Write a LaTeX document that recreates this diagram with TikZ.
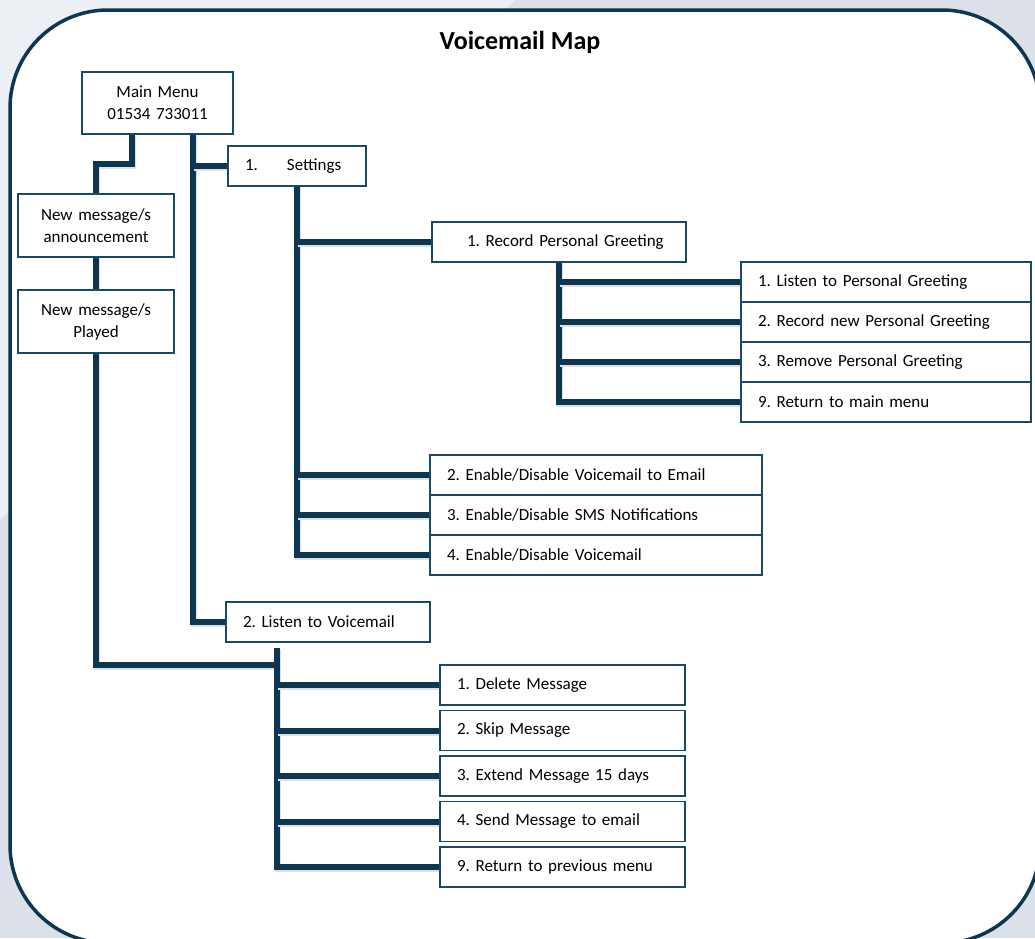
\documentclass[tikz,border=0pt]{standalone}
\usepackage{fontspec}
\setmainfont{Carlito}
\usetikzlibrary{backgrounds}
\frenchspacing

\definecolor{navy}{HTML}{0D3651}
\definecolor{boxline}{HTML}{1A4A68}
\definecolor{backdrop}{HTML}{DCE1E9}
\definecolor{backlight}{HTML}{ECEFF3}

\tikzset{
    menubox/.style = {draw=boxline, line width=1.5pt, fill=white, anchor=north west,
        outer sep=0pt, minimum height=40pt, inner xsep=17pt, inner ysep=2pt, align=left,
        font=\fontsize{17}{22}\selectfont},
    wire/.style = {draw=navy, line width=6pt,
        preaction={draw=black!12, line width=6pt, transform canvas={shift={(1pt,-2pt)}}}},
    maptitle/.style = {font=\fontsize{26}{30}\selectfont\bfseries}
}

\begin{document}
\begin{tikzpicture}[x=1pt, y=-1pt]
\useasboundingbox (0,0) rectangle (1035,938);

\begin{scope}[on background layer]
    \fill[backdrop] (0,0) rectangle (1035,938);
    \fill[backlight] (0,0) -- (515,0) -- (0,520) -- cycle;
    \draw[navy, line width=3.5pt, fill=white, rounded corners=98pt] (10,10) rectangle (1040,943);
\end{scope}

\node[maptitle] (title) at (520,42) {Voicemail Map};

% main menu and message announcements
\node[menubox, text width=117pt, align=center, minimum height=62pt] (main) at (82,72) {Main Menu\\01534 733011};
\node[menubox, text width=122pt, align=center, minimum height=63pt] (announce) at (18,194) {New message/s\\announcement};
\node[menubox, text width=122pt, align=center, minimum height=63pt] (played) at (18,290) {New message/s\\Played};

% settings branch
\node[menubox, text width=104pt] (settings) at (228,146) {\makebox[42pt][l]{1.}Settings};
\node[menubox, text width=220pt] (record) at (432,222) {\hspace*{18pt}1. Record Personal Greeting};
\node[menubox, text width=256pt] (greet1) at (741,262) {1. Listen to Personal Greeting};
\node[menubox, text width=256pt] (greet2) at (greet1.south west) {2. Record new Personal Greeting};
\node[menubox, text width=256pt] (greet3) at (greet2.south west) {3. Remove Personal Greeting};
\node[menubox, text width=256pt] (greet4) at (greet3.south west) {9. Return to main menu};
\node[menubox, text width=298pt] (enable1) at (430,455) {2. Enable/Disable Voicemail to Email};
\node[menubox, text width=298pt] (enable2) at (enable1.south west) {3. Enable/Disable SMS Notifications};
\node[menubox, text width=298pt] (enable3) at (enable2.south west) {4. Enable/Disable Voicemail};

% listen branch
\node[menubox, text width=170pt] (listen) at (226,602) {2. Listen to Voicemail};
\node[menubox, text width=211pt] (msg1) at (440,665) {1. Delete Message};
\node[menubox, text width=211pt] (msg2) at ([yshift=-5.5pt]msg1.south west) {2. Skip Message};
\node[menubox, text width=211pt] (msg3) at ([yshift=-5.5pt]msg2.south west) {3. Extend Message 15 days};
\node[menubox, text width=211pt] (msg4) at ([yshift=-5.5pt]msg3.south west) {4. Send Message to email};
\node[menubox, text width=211pt] (msg5) at ([yshift=-5.5pt]msg4.south west) {9. Return to previous menu};

\coordinate (mright) at ([xshift=111pt]main.south west);
\coordinate (lstop) at ([xshift=51pt, yshift=-6pt]listen.south west);
\coordinate (ljoin) at ([yshift=-17pt]lstop);

\begin{scope}[on background layer]
    % main menu down to the announcements
    \draw[wire] ([xshift=50pt]main.south west) -- ++(0,30) -| (announce.north);
    \draw[wire] (announce.south) -- (played.north);
    \draw[wire] (played.south) |- (ljoin);
    % main menu options
    \draw[wire] (mright) |- (listen.west);
    \draw[wire] (mright |- settings.west) -- (settings.west);
    % settings options
    \draw[wire] (settings.south) |- (enable3.west);
    \foreach \n in {record, enable1, enable2}
        \draw[wire] (settings.south |- \n.west) -- (\n.west);
    % personal greeting options
    \draw[wire] (record.south) |- (greet4.west);
    \foreach \n in {greet1, greet2, greet3}
        \draw[wire] (record.south |- \n.west) -- (\n.west);
    % voicemail options
    \draw[wire] (lstop) |- (msg5.west);
    \foreach \n in {msg1, msg2, msg3, msg4}
        \draw[wire] (lstop |- \n.west) -- (\n.west);
\end{scope}
\end{tikzpicture}
\end{document}
